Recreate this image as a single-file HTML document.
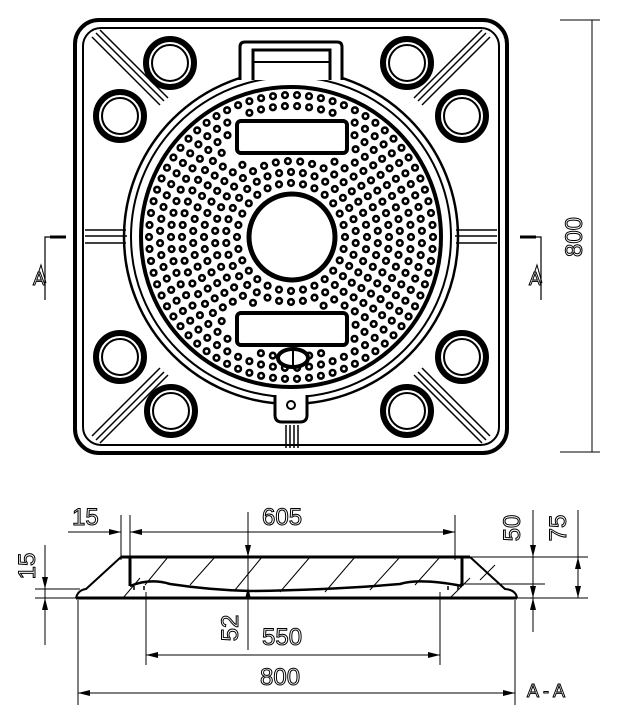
<!DOCTYPE html>
<html><head><meta charset="utf-8"><style>
html,body{margin:0;padding:0;background:#fff;}
svg{display:block}
text{font-family:"Liberation Sans",sans-serif;font-size:24px;fill:#fff;stroke:#000;stroke-width:1}
</style></head><body>
<svg id="s" width="617" height="722" viewBox="0 0 617 722" xmlns="http://www.w3.org/2000/svg">
<g fill="none" stroke="#000">
<rect x="75" y="20" width="432" height="433" rx="24" stroke-width="4"/>
<rect x="83" y="28" width="416" height="417" rx="18" stroke-width="2"/>
<g stroke-width="1.5">
<path d="M92 37 L160 105 M96 33 L164 101 M100 30 L168 98"/>
<path d="M490 37 L422 105 M486 33 L418 101 M482 30 L414 98"/>
<path d="M92 436 L160 368 M96 440 L164 372 M100 443 L168 375"/>
<path d="M490 436 L422 368 M486 440 L418 372 M482 443 L414 375"/>
<path d="M85 230 H126 M85 236 H127 M85 243 H126"/>
<path d="M497 230 H456 M497 236 H455 M497 243 H456"/>
<path d="M286 425 V448 M290 425 V448 M294 425 V448 M298 425 V448"/>
</g>
<g>
<circle cx="170" cy="63" r="24" stroke-width="6"/><circle cx="170" cy="63" r="18" stroke-width="2"/>
<circle cx="407" cy="63" r="24" stroke-width="6"/><circle cx="407" cy="63" r="18" stroke-width="2"/>
<circle cx="120" cy="116" r="24" stroke-width="6"/><circle cx="120" cy="116" r="18" stroke-width="2"/>
<circle cx="462" cy="116" r="24" stroke-width="6"/><circle cx="462" cy="116" r="18" stroke-width="2"/>
<circle cx="120" cy="357" r="24" stroke-width="6"/><circle cx="120" cy="357" r="18" stroke-width="2"/>
<circle cx="462" cy="357" r="24" stroke-width="6"/><circle cx="462" cy="357" r="18" stroke-width="2"/>
<circle cx="171" cy="411" r="24" stroke-width="6"/><circle cx="171" cy="411" r="18" stroke-width="2"/>
<circle cx="407" cy="411" r="24" stroke-width="6"/><circle cx="407" cy="411" r="18" stroke-width="2"/>
</g>
<circle cx="291" cy="237" r="167" stroke-width="2.5"/>
<circle cx="291" cy="237" r="160" stroke-width="2"/>
<circle cx="291" cy="237" r="150" stroke-width="4"/>
<path d="M240 80 V47 Q240 42 245 42 H337 Q342 42 342 47 V80" stroke-width="3" fill="#fff"/>
<path d="M253 80 V50 H330 V80" stroke-width="3"/>
<line x1="253" y1="62" x2="330" y2="62" stroke-width="2"/>
<path d="M275 395 V415 Q275 422 282 422 H300 Q307 422 307 415 V395" stroke-width="3" fill="#fff"/>
<circle cx="291" cy="405" r="4" stroke-width="2"/>
</g>
<g id="dots" fill="none" stroke="#000" stroke-width="2.6"></g>
<g fill="#fff" stroke="#000">
<circle cx="292" cy="237" r="43" stroke-width="5"/>
<rect x="237" y="121" width="110" height="32" rx="4" stroke-width="4"/>
<rect x="237" y="313" width="110" height="32" rx="4" stroke-width="4"/>
<ellipse cx="293" cy="358" rx="15" ry="9" stroke-width="4"/>
<line x1="293" y1="351" x2="293" y2="365" stroke-width="2"/>
</g>
<g fill="none" stroke="#000">
<path d="M66 237 H45 V300" stroke-width="1.2"/><path d="M66 237 H50" stroke-width="3"/>
<path d="M520 237 H541 V300" stroke-width="1.2"/><path d="M520 237 H536" stroke-width="3"/>
<path d="M35 283 L41 265 L46 283" stroke-width="1"/>
<path d="M531 283 L537 265 L542 283" stroke-width="1"/>
<path d="M592 20 V452 M560 20 H600 M560 452 H600" stroke-width="1"/>
</g>
<text transform="translate(582,237) rotate(-90)" text-anchor="middle">800</text>
<text x="33" y="285" style="font-size:18px">A</text>
<text x="529" y="285" style="font-size:18px">A</text>

<g fill="none" stroke="#000">
<g stroke-width="1">
<path d="M145 585 L168 557 M190 585 L215 557 M235 590 L262 557 M280 592 L310 557 M325 592 L355 557 M370 590 L400 557 M415 585 L440 557"/>
<path d="M123 598 L140 578 M450 598 L470 578 M480 580 L495 565"/>
</g>
<path d="M76 598 Q78 590 86 589 L121 557 M470 557 L505 589 Q516 590 517 598" stroke-width="2"/>
<path d="M76 598 H517" stroke-width="3"/>
<path d="M121 557 H470" stroke-width="3"/>
<path d="M130 557 V586 M462 557 V586" stroke-width="3"/>
<path d="M130 586 Q150 578 170 584 Q210 590 250 591 Q330 590 400 584 Q420 578 462 586" stroke-width="2.5"/>
<path d="M134 586 v4 M144 586 v4 M448 586 v4 M458 586 v4" stroke-width="1.5"/>
<g stroke-width="1">
<path d="M121 515 V560 M130 515 V560 M455 515 V560"/>
<path d="M68 532 H121 M130 532 H455"/>
<path d="M248 512 V650"/>
<path d="M146 592 V665 M440 592 V665 M146 655 H440"/>
<path d="M78 600 V705 M515 600 V705 M78 693 H515"/>
<path d="M470 557 H588 M460 584 H545 M517 598 H588"/>
<path d="M533 510 V632 M578 510 V598"/>
<path d="M35 589 H80 M35 598 H80 M45 545 V645"/>
</g>
</g>
<g fill="#000">
<path d="M121 532 l-12 -3 v6z M130 532 l12 -3 v6z M455 532 l-12 -3 v6z"/>
<path d="M248 557 l-3 -12 h6z M248 587 l-3 12 h6z"/>
<path d="M146 655 l12 -3 v6z M440 655 l-12 -3 v6z"/>
<path d="M78 693 l12 -3 v6z M515 693 l-12 -3 v6z"/>
<path d="M533 557 l-3 -12 h6z M533 598 l-3 -12 h6z M533 598 l-3 12 h6z"/>
<path d="M578 557 l-3 12 h6z M578 598 l-3 -12 h6z"/>
<path d="M45 589 l-3 -12 h6z M45 598 l-3 12 h6z"/>
</g>
<text x="72" y="525">15</text>
<text x="262" y="525">605</text>
<text x="262" y="645">550</text>
<text x="260" y="685">800</text>
<text transform="translate(238,628) rotate(-90)" text-anchor="middle">52</text>
<text transform="translate(520,528) rotate(-90)" text-anchor="middle">50</text>
<text transform="translate(566,528) rotate(-90)" text-anchor="middle">75</text>
<text transform="translate(35,566) rotate(-90)" text-anchor="middle">15</text>
<text x="527" y="697" style="font-size:18px">A - A</text>
</svg>
<script>
(function(){
var g=document.getElementById('dots'),ns='http://www.w3.org/2000/svg';
var cx=291,cy=237;
for(var r=54,k=0;r<=143;r+=11,k++){
 var n=Math.floor(2*Math.PI*r/12);
 var off=(k%2)*0.5;
 for(var i=0;i<n;i++){
  var a=(i+off)*2*Math.PI/n;
  var x=cx+r*Math.cos(a),y=cy+r*Math.sin(a);
  if(x>231&&x<353&&((y>115&&y<159)||(y>307&&y<351)))continue;
  var c=document.createElementNS(ns,'circle');
  c.setAttribute('cx',x.toFixed(1));c.setAttribute('cy',y.toFixed(1));c.setAttribute('r','2.8');
  g.appendChild(c);
 }
}
})();
</script>
</body></html>
